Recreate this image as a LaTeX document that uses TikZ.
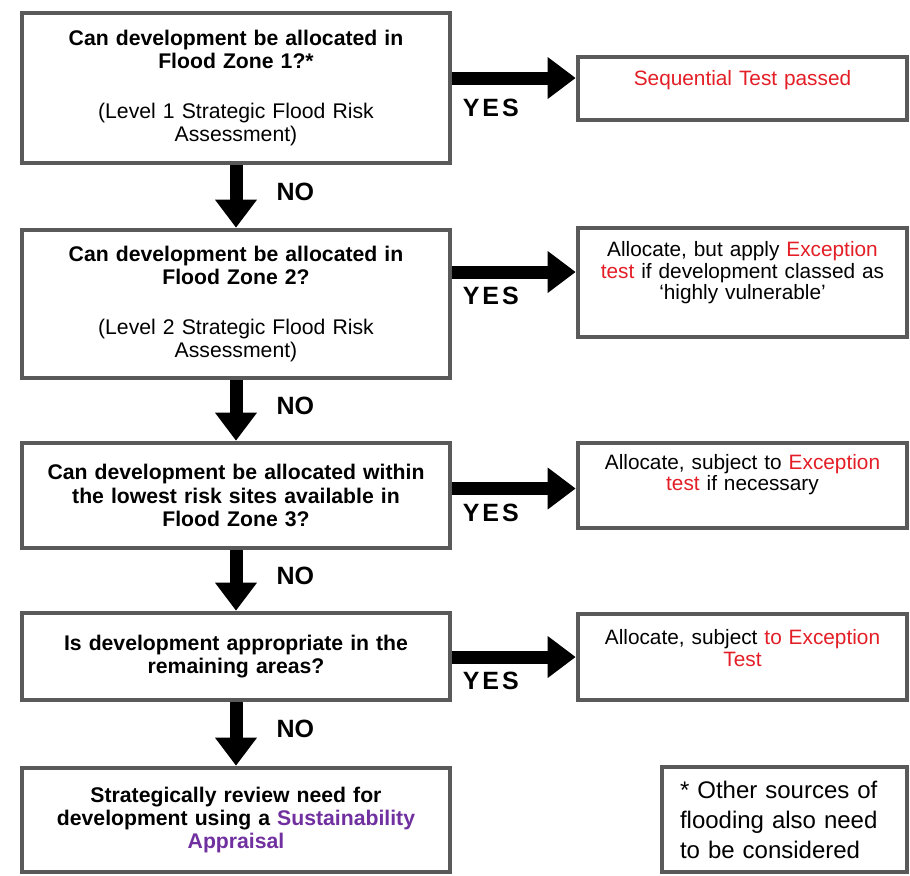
\documentclass[tikz,border=0pt]{standalone}
\usepackage{fontspec}
\setmainfont{Liberation Sans}
\usetikzlibrary{arrows.meta,calc}
\definecolor{boxgray}{RGB}{90,90,90}
\definecolor{testred}{RGB}{228,30,38}
\definecolor{saviolet}{RGB}{112,48,160}
\newcommand{\exctext}[1]{\textcolor{testred}{#1}}
\newcommand{\satext}[1]{\textcolor{saviolet}{#1}}
\newcommand{\droprule}[1]{\rule[-#1]{0pt}{#1}}
\tikzset{
    box/.style={draw=boxgray, line width=2.3pt, fill=white, inner sep=0pt, align=center},
    question/.style={box, text width=214pt, font=\fontsize{10.6}{11.7}\selectfont\bfseries},
    outcome/.style={box, text width=164.5pt, font=\fontsize{10.4}{10.6}\selectfont},
    flowarrow/.style={line width=6.5pt, -{Triangle[width=20pt,length=14pt]}},
    nolabel/.style={font=\fontsize{12.5}{12.5}\selectfont\bfseries, inner sep=0pt, anchor=west, xshift=17pt},
    yeslabel/.style={font=\fontsize{12.5}{12.5}\selectfont\bfseries, inner sep=0pt, anchor=north west, xshift=2pt, yshift=-4.5pt}
}
\begin{document}
\begin{tikzpicture}[x=0.5pt,y=-0.5pt]
        \useasboundingbox (0,0) rectangle (910,875);
        %% Questions
        \node[question, minimum height=75pt] (q1) at (236,88)
            {Can development be allocated in\\Flood Zone 1?*\\[13pt]\mdseries(Level 1 Strategic Flood Risk\\Assessment)};
        \node[question, minimum height=74pt] (q2) at (236,304)
            {Can development be allocated in\\Flood Zone 2?\\[13pt]\mdseries(Level 2 Strategic Flood Risk\\Assessment)};
        \node[question, minimum height=52.5pt] (q3) at (236,495.5)
            {Can development be allocated within\\the lowest risk sites available in\\Flood Zone 3?};
        \node[question, minimum height=43.5pt] (q4) at (236,656.5)
            {Is development appropriate in the\\remaining areas?};
        \node[question, minimum height=52pt] (q5) at (236,820)
            {Strategically review need for\\development using a \satext{Sustainability}\\\satext{Appraisal}};
        %% Outcomes
        \node[outcome, minimum height=31.5pt] (r1) at (742.5,88.5)
            {\exctext{Sequential Test passed}\droprule{11pt}};
        \node[outcome, minimum height=54.5pt] (r2) at (742.5,282.5)
            {Allocate, but apply \exctext{Exception}\\\exctext{test} if development classed as\\‘highly vulnerable’\droprule{12pt}};
        \node[outcome, minimum height=42.5pt] (r3) at (742.5,485.5)
            {Allocate, subject to \exctext{Exception}\\\exctext{test} if necessary\droprule{13pt}};
        \node[outcome, minimum height=43pt] (r4) at (742.5,657)
            {Allocate, subject \exctext{to Exception}\\\exctext{Test}\droprule{9pt}};
        %% Footnote
        \node[box, align=left, text width=104.5pt, inner xsep=9pt, minimum height=52.5pt,
            font=\fontsize{12}{15}\selectfont] (note) at (784.5,819.5)
            {* Other sources of\\flooding also need\\to be considered};
        %% NO arrows
        \draw[flowarrow] (q1.south) -- (q2.north) node[nolabel, pos=0.42] {NO};
        \draw[flowarrow] (q2.south) -- (q3.north) node[nolabel, pos=0.42] {NO};
        \draw[flowarrow] (q3.south) -- (q4.north) node[nolabel, pos=0.42] {NO};
        \draw[flowarrow] (q4.south) -- (q5.north) node[nolabel, pos=0.42] {NO};
        %% YES arrows
        \draw[flowarrow] ($(q1.east |- r1.west)+(0,5.25pt)$) -- ($(r1.west)+(0,5.25pt)$)
            node[yeslabel, pos=0, yshift=-3pt] {Y\kern1.5pt E\kern1.5pt S};
        \draw[flowarrow] ($(q2.east |- r2.west)+(0,5.25pt)$) -- ($(r2.west)+(0,5.25pt)$)
            node[yeslabel, pos=0] {Y\kern1.5pt E\kern1.5pt S};
        \draw[flowarrow] ($(q3.east |- r3.west)+(0,-1.5pt)$) -- ($(r3.west)+(0,-1.5pt)$)
            node[yeslabel, pos=0] {Y\kern1.5pt E\kern1.5pt S};
        \draw[flowarrow] (q4.east |- r4.west) -- (r4.west)
            node[yeslabel, pos=0] {Y\kern1.5pt E\kern1.5pt S};
    \end{tikzpicture}
\end{document}
